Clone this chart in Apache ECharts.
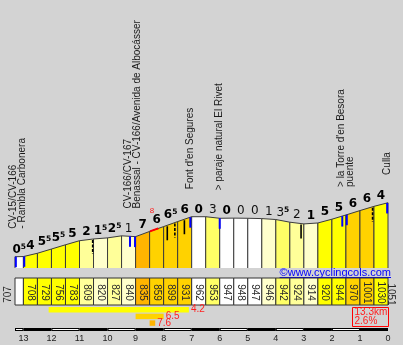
<!DOCTYPE html>
<html><head><meta charset="utf-8">
<script src="https://cdn.jsdelivr.net/npm/echarts@6/dist/echarts.min.js"></script>
<style>html,body{margin:0;padding:0;background:#d3d3d3;}#c{width:403px;height:345px;}</style>
</head><body><div id="c"></div>
<script>
// ---------- data (km to go, left = start) ----------
const kmToGo = [13.3,13,12.5,12,11.5,11,10.5,10,9.5,9,8.5,8,7.5,7,6.5,6,5.5,5,4.5,4,3.5,3,2.5,2,1.5,1,0.5,0];
const profileElev = [707,708,729,756,783,809,820,827,840,835,868,899,931,962,962,952,953,952,950,944,927,916,922,946,973,1001,1028,1051];
const gradeLabels = [0.5,4,5.5,5.5,5,2,1.5,2.5,1,7,6,6.5,6,0,3,0,0,0,1,3.5,2,1,5,5,6,6,4];
const boxElev = [null,708,729,756,783,809,820,827,840,835,859,899,931,962,953,947,948,947,946,942,924,914,920,944,970,1001,1030];
const startElev = 707, endElev = 1051;
const locationKm = [13.2, 9.1, 7.05, 6.0, 1.5, 0.02];
const locationNames = ['CV-15/CV-166\n- Rambla Carbonera','CV-166/CV-167\nBenassal - CV-166/Avenida de Albocásser',"Font d'en Segures",'> paraje natural El Rivet',"> la Torre d'en Besora\npuente",'Culla'];
const placeMarkKm = [13.27,12.97,9.2,9.02,7.05,6.0,1.63,1.47,0.03];
const roadMarkKm = [10.53,7.87,7.6,7.26,3.1,0.55];
const roadMarkDashed = [true,false,true,false,false,true];
const steepFrom = [8.49], steepTo = [8.19], steepGrade = [8];
const climbFrom = [12.1,9.0,8.5], climbTo = [7.1,8.0,8.3], climbGrade = [4.2,6.5,7.6];
const totalKm = 13.3, avgGrade = 2.6;
const rulerBounds = [13.3,13,12,11,10,9,8,7,6,5,4,3,2,1,0];
const siteUrl = '©www.cyclingcols.com';

// ---------- helpers ----------
const Y_MIN = 635, Y_MAX = 1145;
const SANS = '"Liberation Sans", Arial, sans-serif';
const GFONT = '"DejaVu Sans", Verdana, sans-serif';
function gradeColor(g){
  if (g < 1) return '#ffffff';
  if (g < 2) return '#ffffcc';
  if (g < 3) return '#ffff99';
  if (g < 4) return '#ffff66';
  if (g < 6) return '#ffff00';
  if (g < 7) return '#ffd200';
  if (g < 8) return '#ffb400';
  return '#ff0000';
}
function elevAt(km){
  for (let i=0;i<kmToGo.length-1;i++){
    const a=kmToGo[i], b=kmToGo[i+1];
    if (km<=a && km>=b){ const t=(a-km)/(a-b); return profileElev[i]+t*(profileElev[i+1]-profileElev[i]); }
  }
  return km>kmToGo[0]?profileElev[0]:profileElev[profileElev.length-1];
}
const xAx = (gi, extra) => Object.assign({type:'value', gridIndex:gi, min:0, max:13.3, inverse:true, show:false, splitLine:{show:false}}, extra||{});

const segData = gradeLabels.map((g,i)=>[kmToGo[i],kmToGo[i+1],profileElev[i],profileElev[i+1],g]);
const boxData = gradeLabels.map((g,i)=>[kmToGo[i],kmToGo[i+1],0,1,g]);

const chart = echarts.init(document.getElementById('c'), null, {renderer:'canvas', width:403, height:345});

const option = {
  backgroundColor:'#d3d3d3',
  animation:false,
  grid:[
    {left:15,right:15,top:188,height:80},
    {left:15,right:15,top:278,height:27},
    {left:15,right:15,top:307,height:20},
    {left:15,right:15,top:328,height:3}
  ],
  xAxis:[ xAx(0), xAx(1), xAx(2),
    xAx(3,{show:true, interval:1, axisLine:{show:false}, axisTick:{show:false},
      axisLabel:{show:true, margin:3, fontSize:9, fontFamily:SANS, color:'#222',
        formatter:v=>Number.isInteger(v)?String(v):''}})
  ],
  yAxis:[
    {type:'value', gridIndex:0, min:Y_MIN, max:Y_MAX, show:false, splitLine:{show:false}},
    {type:'value', gridIndex:1, min:0, max:1, show:false, splitLine:{show:false}},
    {type:'value', gridIndex:2, min:0, max:3, inverse:true, show:false, splitLine:{show:false}},
    {type:'value', gridIndex:3, min:0, max:1, show:false, splitLine:{show:false}}
  ],
  series:[
    // profile segments + gradient labels
    {type:'custom', xAxisIndex:0, yAxisIndex:0, data:segData, encode:{x:[0,1],y:[2,3]},
      renderItem(params, api){
        const k0=api.value(0),k1=api.value(1),e0=api.value(2),e1=api.value(3),g=api.value(4);
        const p0=api.coord([k0,e0]), p1=api.coord([k1,e1]);
        const base=api.coord([k0,Y_MIN])[1];
        const up = e1>=e0;
        const ip=Math.floor(g), half=(g-ip)>=0.25;
        const key = up?'b':'n';
        const txt='{'+key+'|'+ip+'}'+(half?'{s|5}':'');
        return {type:'group', children:[
          {type:'polygon', shape:{points:[[p0[0],base],p0,p1,[p1[0],base]]}, style:{fill:gradeColor(g), stroke:null}},
          {type:'polyline', shape:{points:[[p0[0],base],p0,p1,[p1[0],base]]}, style:{fill:null, stroke:'#3c3c3c', lineWidth:1}},
          {type:'text', x:(p0[0]+p1[0])/2, y:Math.min(p0[1],p1[1])-0.5,
            style:{text:txt, align:'center', verticalAlign:'bottom',
              rich:{
                b:{fontFamily:GFONT, fontWeight:'bold', fontSize:12, fill:'#000', lineHeight:13},
                n:{fontFamily:GFONT, fontWeight:'normal', fontSize:12, fill:'#111', lineHeight:13},
                s:{fontFamily:GFONT, fontWeight:'bold', fontSize:7.5, fill:'#000', lineHeight:9, verticalAlign:'top'}
              }}}
        ]};
      }},
    // steep stretch
    {type:'custom', xAxisIndex:0, yAxisIndex:0, data:steepFrom.map((f,i)=>[f,steepTo[i],steepGrade[i]]), encode:{x:[0,1]},
      renderItem(params, api){
        const f=api.value(0), t=api.value(1), g=api.value(2);
        const pts=[];
        for (let k=f;k>=t-1e-9;k-=0.05) pts.push(api.coord([k,elevAt(k)]));
        pts.push(api.coord([t,elevAt(t)]));
        const top=Math.min(...pts.map(p=>p[1]));
        return {type:'group',children:[
          {type:'polyline', shape:{points:pts}, style:{stroke:'#ff0000', lineWidth:2, fill:null}},
          {type:'text', x:pts[0][0]+2, y:top-18, style:{text:String(g), align:'center', verticalAlign:'middle', fontSize:8, fontFamily:SANS, fill:'#ff2020'}}
        ]};
      }},
    // road marks (black)
    {type:'custom', xAxisIndex:0, yAxisIndex:0, data:roadMarkKm.map((k,i)=>[k,elevAt(k),roadMarkDashed[i]?1:0]), encode:{x:0,y:1},
      renderItem(params, api){
        const p=api.coord([api.value(0),api.value(1)]);
        return {type:'line', shape:{x1:p[0],y1:p[1]+1,x2:p[0],y2:p[1]+15},
          style:{stroke:'#000', lineWidth:1.6, lineDash:api.value(2)?[3,1.5]:null}};
      }},
    // place marks (blue)
    {type:'custom', xAxisIndex:0, yAxisIndex:0, data:placeMarkKm.map(k=>[k,elevAt(k)]), encode:{x:0,y:1},
      renderItem(params, api){
        const p=api.coord([api.value(0),api.value(1)]);
        return {type:'rect', shape:{x:p[0]-1,y:p[1],width:2,height:10.5}, style:{fill:'#0000ff'}};
      }},
    // location names
    {type:'custom', xAxisIndex:0, yAxisIndex:0, data:locationKm.map(k=>[k,elevAt(k)]), encode:{x:0,y:1},
      renderItem(params, api){
        const p=api.coord([api.value(0),api.value(1)]);
        return {type:'text', x:p[0], y:p[1]-28, rotation:Math.PI/2,
          style:{text:locationNames[params.dataIndex], align:'left', verticalAlign:'middle',
            fontSize:10, fontFamily:SANS, fill:'#1a1a1a', lineHeight:9}};
      }},
    // elevation boxes
    {type:'custom', xAxisIndex:1, yAxisIndex:1, data:boxData, encode:{x:[0,1]},
      renderItem(params, api){
        const i=params.dataIndex;
        const k0=api.value(0),k1=api.value(1),g=api.value(4);
        const a=api.coord([k0,1]), b=api.coord([k1,0]);
        const ch=[{type:'rect', shape:{x:a[0],y:a[1],width:b[0]-a[0],height:b[1]-a[1]}, style:{fill:gradeColor(g), stroke:'#333', lineWidth:1}}];
        const ts={align:'center', verticalAlign:'middle', fontSize:10, fontFamily:SANS, fill:'#2a2a2a'};
        const cy=(a[1]+b[1])/2+1;
        if (boxElev[i]!=null) ch.push({type:'text', x:(a[0]+b[0])/2, y:cy, rotation:-Math.PI/2, style:Object.assign({text:String(boxElev[i])},ts)});
        if (i===0) ch.push({type:'text', x:a[0]-7, y:cy+2, rotation:Math.PI/2, style:Object.assign({text:String(startElev)},ts)});
        if (i===boxData.length-1) ch.push({type:'text', x:b[0]+3, y:cy+2, rotation:-Math.PI/2, style:Object.assign({text:String(endElev)},ts)});
        return {type:'group', children:ch};
      }},
    // climb bars
    {type:'custom', xAxisIndex:2, yAxisIndex:2, data:climbFrom.map((f,i)=>[f,climbTo[i],i,climbGrade[i]]), encode:{x:[0,1]},
      renderItem(params, api){
        const f=api.value(0),t=api.value(1),r=api.value(2),g=api.value(3);
        const a=api.coord([f,r]), b=api.coord([t,r+0.82]);
        return {type:'group',children:[
          {type:'rect', shape:{x:a[0],y:a[1],width:b[0]-a[0],height:b[1]-a[1]}, style:{fill:gradeColor(g)}},
          {type:'text', x:b[0]+2, y:(a[1]+b[1])/2, style:{text:g.toFixed(1), align:'left', verticalAlign:'middle', fontSize:10, fontFamily:SANS, fill:'#ff2020'}}
        ]};
      }},
    // km ruler
    {type:'custom', xAxisIndex:3, yAxisIndex:3, data:rulerBounds.slice(0,-1).map((k,i)=>[k,rulerBounds[i+1]]), encode:{x:[0,1]},
      renderItem(params, api){
        const k0=api.value(0),k1=api.value(1);
        const a=api.coord([k0,1]), b=api.coord([k1,0]);
        const ch=[{type:'rect', shape:{x:a[0],y:a[1],width:b[0]-a[0],height:b[1]-a[1]}, style:{fill:'#000'}}];
        if (Math.floor(k1)%2===1) ch.push({type:'rect', shape:{x:a[0]+1,y:a[1]+1,width:b[0]-a[0]-2,height:b[1]-a[1]-2}, style:{fill:'#fff'}});
        return {type:'group',children:ch};
      }}
  ],
  graphic:[]
};
chart.setOption(option);

// url + summary box
const ctx=document.createElement('canvas').getContext('2d');
ctx.font='11px "Liberation Sans"';
const uw=ctx.measureText(siteUrl).width;
const xEnd = chart.convertToPixel({xAxisIndex:0}, 0);
chart.setOption({graphic:[
  {type:'text', x:xEnd+3, y:272.5, style:{text:siteUrl, align:'right', verticalAlign:'middle', fontSize:11, fontFamily:SANS, fill:'#0000ff'}},
  {type:'line', shape:{x1:xEnd+3-uw, y1:277.5, x2:xEnd+3, y2:277.5}, style:{stroke:'#0000ff', lineWidth:1}},
  {type:'rect', shape:{x:352.5, y:307.5, width:36, height:19}, style:{fill:null, stroke:'#ff0000', lineWidth:1}},
  {type:'text', x:354.5, y:308, style:{text:totalKm.toFixed(1)+'km\n'+avgGrade.toFixed(1)+'%', align:'left', verticalAlign:'top', fontSize:10, fontFamily:SANS, fill:'#ff2020', lineHeight:9}}
]});
</script></body></html>
